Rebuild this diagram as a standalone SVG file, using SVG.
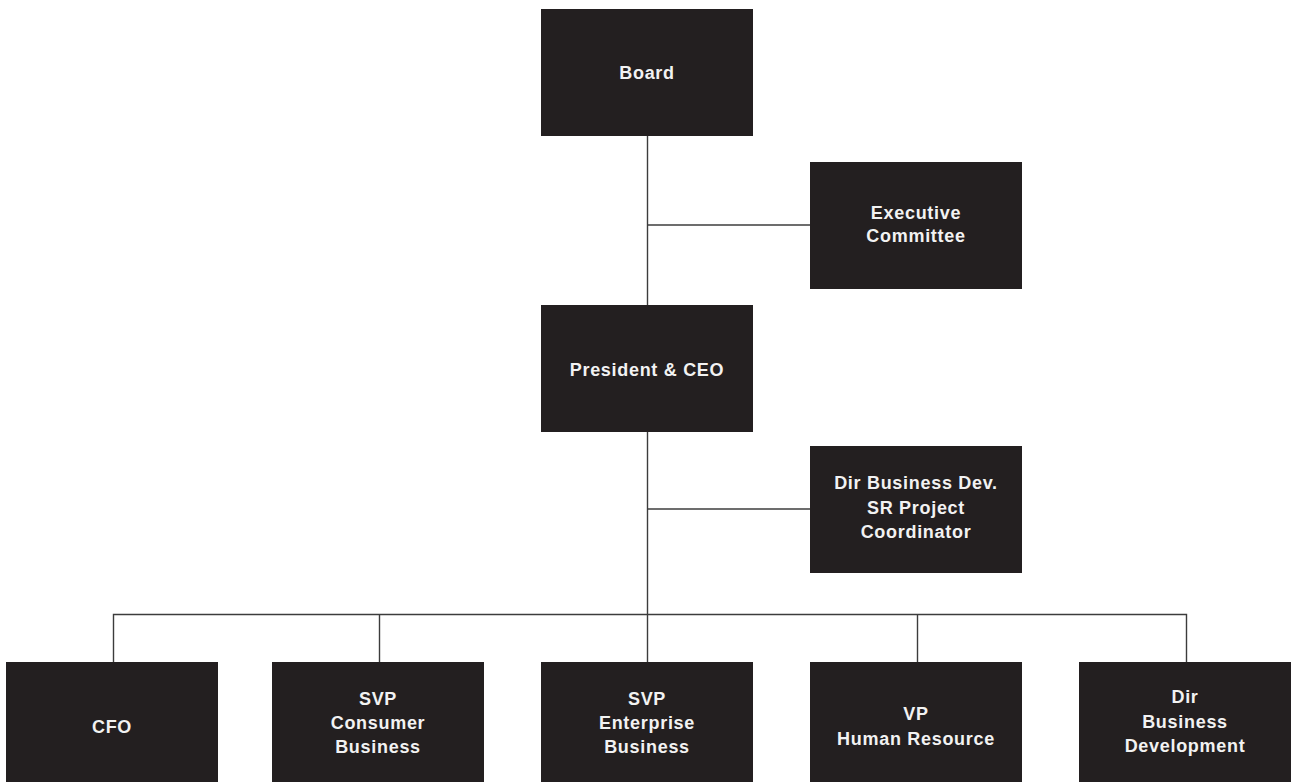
<svg xmlns="http://www.w3.org/2000/svg" width="1292" height="782" viewBox="0 0 1292 782">
<style>
.box{fill:#231f20}
.lbl{font-family:"Liberation Sans",Arial,sans-serif;font-weight:bold;font-size:18px;letter-spacing:0.7px;fill:#f2f2f2;text-anchor:middle}
.conn{stroke:#3c3c3c;stroke-width:1.4;fill:none}
</style>
<rect width="1292" height="782" fill="#ffffff"/>
<g id="connectors" class="conn">
<path d="M647.5 135 V306"/>
<path d="M647.5 225 H810"/>
<path d="M647.5 432 V662"/>
<path d="M647.5 509 H810"/>
<path d="M113.5 662 V614.5 H1186.5 V662"/>
<path d="M379.5 614.5 V662"/>
<path d="M917.5 614.5 V662"/>
</g>
<g id="board">
<rect class="box" x="541" y="9" width="212" height="127"/>
<text class="lbl" x="647" y="79">Board</text>
</g>
<g id="exec">
<rect class="box" x="810" y="162" width="212" height="127"/>
<text class="lbl" x="916" y="218.5">Executive</text>
<text class="lbl" x="916" y="242">Committee</text>
</g>
<g id="ceo">
<rect class="box" x="541" y="305" width="212" height="127"/>
<text class="lbl" x="647" y="375.5">President &amp; CEO</text>
</g>
<g id="dirbizdev">
<rect class="box" x="810" y="446" width="212" height="127"/>
<text class="lbl" x="916" y="488.5">Dir Business Dev.</text>
<text class="lbl" x="916" y="513.5">SR Project</text>
<text class="lbl" x="916" y="538">Coordinator</text>
</g>
<g id="cfo">
<rect class="box" x="6" y="662" width="212" height="127"/>
<text class="lbl" x="112" y="732.5">CFO</text>
</g>
<g id="svpconsumer">
<rect class="box" x="272" y="662" width="212" height="127"/>
<text class="lbl" x="378" y="705">SVP</text>
<text class="lbl" x="378" y="729">Consumer</text>
<text class="lbl" x="378" y="753">Business</text>
</g>
<g id="svpenterprise">
<rect class="box" x="541" y="662" width="212" height="127"/>
<text class="lbl" x="647" y="705">SVP</text>
<text class="lbl" x="647" y="729">Enterprise</text>
<text class="lbl" x="647" y="753">Business</text>
</g>
<g id="vphr">
<rect class="box" x="810" y="662" width="212" height="127"/>
<text class="lbl" x="916" y="719.5">VP</text>
<text class="lbl" x="916" y="744.5">Human Resource</text>
</g>
<g id="dirbusiness">
<rect class="box" x="1079" y="662" width="212" height="127"/>
<text class="lbl" x="1185" y="703">Dir</text>
<text class="lbl" x="1185" y="727.5">Business</text>
<text class="lbl" x="1185" y="752">Development</text>
</g>
</svg>
